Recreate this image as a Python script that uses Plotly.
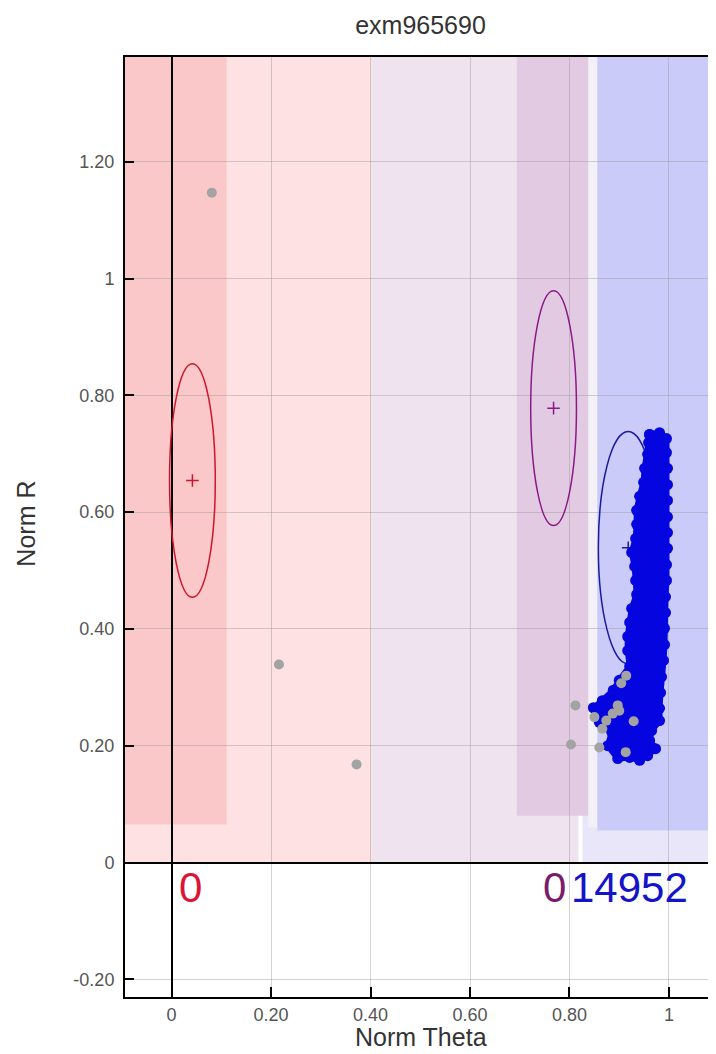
import plotly.graph_objects as go

# ---------------- text ----------------
chart_title = "exm965690"
x_title = "Norm Theta"
y_title = "Norm R"

x_tickvals = [0, 0.2, 0.4, 0.6, 0.8, 1.0]
x_ticktext = ["0", "0.20", "0.40", "0.60", "0.80", "1"]
y_tickvals = [-0.2, 0, 0.2, 0.4, 0.6, 0.8, 1.0, 1.2]
y_ticktext = ["-0.20", "0", "0.20", "0.40", "0.60", "0.80", "1", "1.20"]

# ---------------- cluster definitions ----------------
cluster_theta = [0.042, 0.768, 0.918]
cluster_r = [0.654, 0.778, 0.539]
cluster_half_theta = [0.046, 0.046, 0.060]
cluster_half_r = [0.200, 0.201, 0.199]
cluster_counts = ["0", "0", "14952"]
count_theta = [0.038, 0.770, 0.921]
count_r = [-0.043, -0.043, -0.043]

# ---------------- call regions (background bands) ----------------
region_theta0 = [-0.2, 0.403, 0.826, -0.2, 0.694, 0.838, 0.856]
region_theta1 = [0.403, 0.818, 1.3, 0.111, 0.838, 0.856, 1.3]
region_r0 = [0.0, 0.0, 0.0, 0.065, 0.080, 0.060, 0.055]
region_r1 = [1.5, 1.5, 1.5, 1.5, 1.5, 1.5, 1.5]

# ---------------- samples ----------------
# BB calls (outline of the dense cluster)
bb_theta = [0.961, 0.981, 0.995, 0.995, 0.997, 0.997, 0.997, 0.997, 0.997, 0.997,
            0.995, 0.995, 0.993, 0.993, 0.991, 0.991, 0.989, 0.985, 0.983, 0.981,
            0.981, 0.965, 0.961, 0.973, 0.957, 0.941, 0.921, 0.897, 0.877, 0.885,
            0.860, 0.848, 0.866, 0.888, 0.900, 0.921, 0.917, 0.917, 0.921, 0.925,
            0.935, 0.933, 0.931, 0.925, 0.933, 0.935, 0.935, 0.941, 0.949, 0.951,
            0.957, 0.959]
bb_r = [0.733, 0.736, 0.726, 0.702, 0.675, 0.647, 0.620, 0.592, 0.565, 0.538,
        0.510, 0.483, 0.455, 0.428, 0.401, 0.373, 0.346, 0.318, 0.291, 0.264,
        0.243, 0.226, 0.209, 0.195, 0.183, 0.175, 0.180, 0.178, 0.200, 0.223,
        0.240, 0.265, 0.277, 0.295, 0.312, 0.336, 0.363, 0.387, 0.411, 0.435,
        0.459, 0.483, 0.507, 0.531, 0.555, 0.579, 0.603, 0.627, 0.651, 0.675,
        0.699, 0.719]

# no-calls
nc_theta = [0.081, 0.216, 0.372, 0.812, 0.803, 0.860, 0.914, 0.904, 0.897,
            0.850, 0.874, 0.887, 0.929, 0.866, 0.913, 0.900]
nc_r = [1.147, 0.339, 0.168, 0.269, 0.202, 0.197, 0.320, 0.307, 0.269,
        0.249, 0.243, 0.255, 0.242, 0.229, 0.189, 0.260]

# ---------------- styles ----------------
region_colors = ["#fde1e3", "#efe3f0", "#e8e6f8", "#fbc8c9", "#e2cae3", "#f3f0f8", "#cbcbfa"]
ellipse_colors = ["#d0142c", "#8a1a86", "#1c1c9c"]
count_colors = ["#dc1436", "#7a1c6c", "#1414c8"]
bb_color = "#0505e0"
nc_color = "#a3a3a3"
font_family = "Liberation Sans, Arial, sans-serif"

FIG_W, FIG_H = 708, 1046   # page body adds an 8px margin

fig = go.Figure()

shapes = []
for t0, t1, r0, r1, c in zip(region_theta0, region_theta1, region_r0, region_r1, region_colors):
    shapes.append(dict(type="rect", xref="x", yref="y", x0=t0, x1=t1, y0=r0, y1=r1,
                       fillcolor=c, line=dict(width=0), layer="below"))
for ct, cr, ht, hr, c in zip(cluster_theta, cluster_r, cluster_half_theta, cluster_half_r, ellipse_colors):
    shapes.append(dict(type="circle", xref="x", yref="y", x0=ct - ht, x1=ct + ht,
                       y0=cr - hr, y1=cr + hr, line=dict(color=c, width=1.5),
                       fillcolor="rgba(0,0,0,0)", layer="between"))

# cluster centres
fig.add_trace(go.Scatter(x=cluster_theta, y=cluster_r, mode="markers",
                         marker=dict(symbol="cross-thin", size=9,
                                     line=dict(color=ellipse_colors, width=1.5)),
                         hoverinfo="skip", showlegend=False))

# BB cluster
fig.add_trace(go.Scatter(x=bb_theta + bb_theta[:1], y=bb_r + bb_r[:1], mode="lines+markers",
                         fill="toself", fillcolor=bb_color,
                         line=dict(color=bb_color, width=6),
                         marker=dict(color=bb_color, size=11),
                         showlegend=False))

# no-calls
fig.add_trace(go.Scatter(x=nc_theta, y=nc_r, mode="markers",
                         marker=dict(color=nc_color, size=10),
                         showlegend=False))

annotations = []
for t, r, txt, c in zip(count_theta, count_r, cluster_counts, count_colors):
    annotations.append(dict(x=t, y=r, xref="x", yref="y", text=txt, showarrow=False,
                            font=dict(family=font_family, size=42, color=c),
                            xanchor="center", yanchor="middle"))
annotations.append(dict(x=0.5, y=-0.0426, xref="paper", yref="paper", text=x_title,
                        showarrow=False, xanchor="center", yanchor="middle",
                        font=dict(family=font_family, size=25, color="#333333")))
annotations.append(dict(x=-0.169, y=0.5037, xref="paper", yref="paper", text=y_title,
                        showarrow=False, xanchor="center", yanchor="middle", textangle=-90,
                        font=dict(family=font_family, size=25, color="#333333")))

grid = "rgba(150,150,150,0.42)"
fig.update_layout(
    width=FIG_W, height=FIG_H,
    margin=dict(l=117, r=0, t=49, b=57, autoexpand=False),
    paper_bgcolor="white", plot_bgcolor="white",
    title=dict(text=chart_title, x=0.5, xref="paper", y=1 - 17.5 / FIG_H, yref="container",
               xanchor="center", yanchor="middle",
               font=dict(family=font_family, size=25, color="#333333")),
    shapes=shapes, annotations=annotations,
    xaxis=dict(range=[-0.0935, 1.0945], tickvals=x_tickvals, ticktext=x_ticktext,
               showgrid=True, gridcolor=grid, gridwidth=1,
               zeroline=True, zerolinecolor="black", zerolinewidth=1.6,
               showline=True, linecolor="black", linewidth=2, mirror=True,
               ticks="inside", ticklen=10, tickwidth=2, tickcolor="black",
               tickfont=dict(family=font_family, size=18, color="#555555"),
               automargin=False),
    yaxis=dict(range=[-0.2303, 1.3793], tickvals=y_tickvals, ticktext=y_ticktext,
               showgrid=True, gridcolor=grid, gridwidth=1,
               zeroline=True, zerolinecolor="black", zerolinewidth=1.6,
               showline=True, linecolor="black", linewidth=2, mirror=False,
               ticks="inside", ticklen=9, tickwidth=2, tickcolor="black",
               ticklabelstandoff=5,
               tickfont=dict(family=font_family, size=18, color="#555555"),
               automargin=False),
)

fig.write_html("out.html")
